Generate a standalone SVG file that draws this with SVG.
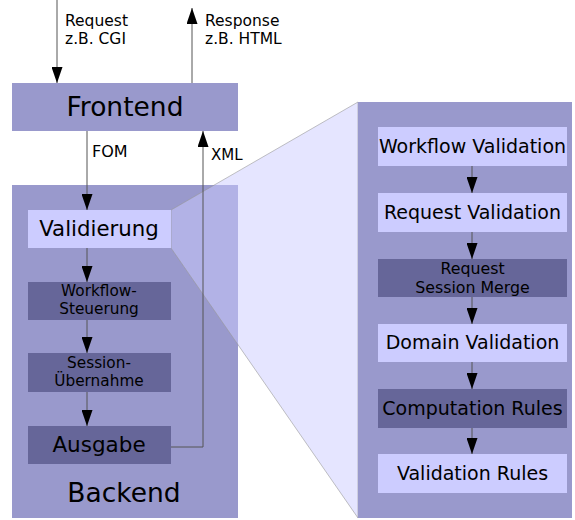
<svg xmlns="http://www.w3.org/2000/svg" width="575" height="520" viewBox="0 0 575 520">
<defs>
<style>
text{font-family:"DejaVu Sans","Liberation Sans",sans-serif;fill:#000;text-anchor:middle}
.lbl{text-anchor:start}
.mid{fill:#9999cc}
.light{fill:#ccccff}
.dark{fill:#666699}
.conn{stroke:#555;stroke-width:1;fill:none}
</style>
<marker id="ah" viewBox="0 0 16 11" refX="16" refY="5.5" markerWidth="16" markerHeight="11" markerUnits="userSpaceOnUse" orient="auto">
<path d="M0,0 L16,5.5 L0,11 Z" fill="#000"/>
</marker>
</defs>
<g id="frontend">
<rect class="mid" x="12" y="83" width="226" height="48"/>
<text x="125" y="116" font-size="26.5">Frontend</text>
</g>
<g id="backend">
<rect class="mid" x="12" y="185" width="226" height="333"/>
<text x="124" y="502" font-size="26.5">Backend</text>
</g>
<g id="zoom">
<polygon points="171,210 358,102 358,518 171,248" fill="#ccccff" fill-opacity="0.5" stroke="#999" stroke-width="0.6"/>
</g>
<g id="validierung">
<rect class="light" x="28" y="210" width="143" height="38"/>
<text x="99" y="236" font-size="21.3">Validierung</text>
</g>
<g id="workflow">
<rect class="dark" x="28" y="282" width="143" height="38"/>
<text x="99" y="296" font-size="15.3">Workflow-</text>
<text x="99" y="314" font-size="15.3">Steuerung</text>
</g>
<g id="session">
<rect class="dark" x="28" y="353" width="143" height="39"/>
<text x="99" y="368" font-size="15.3">Session-</text>
<text x="99" y="386" font-size="15.3">Übernahme</text>
</g>
<g id="ausgabe">
<rect class="dark" x="28" y="426" width="143" height="38"/>
<text x="99" y="452" font-size="21.5">Ausgabe</text>
</g>
<g id="detail">
<rect class="mid" x="358" y="102" width="214" height="416"/>
</g>
<g id="workflow-validation">
<rect class="light" x="378" y="127" width="189" height="39"/>
<text x="472.5" y="153" font-size="19">Workflow Validation</text>
</g>
<g id="request-validation">
<rect class="light" x="378" y="193" width="189" height="39"/>
<text x="472.5" y="219" font-size="19">Request Validation</text>
</g>
<g id="request-session-merge">
<rect class="dark" x="378" y="259" width="189" height="38"/>
<text x="472.5" y="274" font-size="15.8">Request</text>
<text x="472.5" y="293" font-size="15.8">Session Merge</text>
</g>
<g id="domain-validation">
<rect class="light" x="378" y="324" width="189" height="38"/>
<text x="472.5" y="349" font-size="19">Domain Validation</text>
</g>
<g id="computation-rules">
<rect class="dark" x="378" y="389" width="189" height="39"/>
<text x="472.5" y="415" font-size="19">Computation Rules</text>
</g>
<g id="validation-rules">
<rect class="light" x="378" y="454" width="189" height="39"/>
<text x="472.5" y="480" font-size="19">Validation Rules</text>
</g>
<g id="connectors">
<line class="conn" x1="57" y1="0" x2="57" y2="83" marker-end="url(#ah)"/>
<line class="conn" x1="192" y1="83" x2="192" y2="8" marker-end="url(#ah)"/>
<line class="conn" x1="87" y1="131" x2="87" y2="210" marker-end="url(#ah)"/>
<polyline class="conn" points="171,447 203,447 203,131" marker-end="url(#ah)"/>
<line class="conn" x1="87" y1="248" x2="87" y2="282" marker-end="url(#ah)"/>
<line class="conn" x1="87" y1="320" x2="87" y2="353" marker-end="url(#ah)"/>
<line class="conn" x1="87" y1="392" x2="87" y2="426" marker-end="url(#ah)"/>
<line class="conn" x1="472" y1="166" x2="472" y2="193" marker-end="url(#ah)"/>
<line class="conn" x1="472" y1="232" x2="472" y2="259" marker-end="url(#ah)"/>
<line class="conn" x1="472" y1="297" x2="472" y2="324" marker-end="url(#ah)"/>
<line class="conn" x1="472" y1="362" x2="472" y2="389" marker-end="url(#ah)"/>
<line class="conn" x1="472" y1="428" x2="472" y2="454" marker-end="url(#ah)"/>
<text class="lbl" x="65" y="26" font-size="15.5">Request</text>
<text class="lbl" x="65" y="44" font-size="15.5">z.B. CGI</text>
<text class="lbl" x="205" y="26" font-size="15.5">Response</text>
<text class="lbl" x="205" y="44" font-size="15.5">z.B. HTML</text>
<text class="lbl" x="92" y="157" font-size="16">FOM</text>
<text class="lbl" x="211" y="160" font-size="15">XML</text>
</g>
</svg>
